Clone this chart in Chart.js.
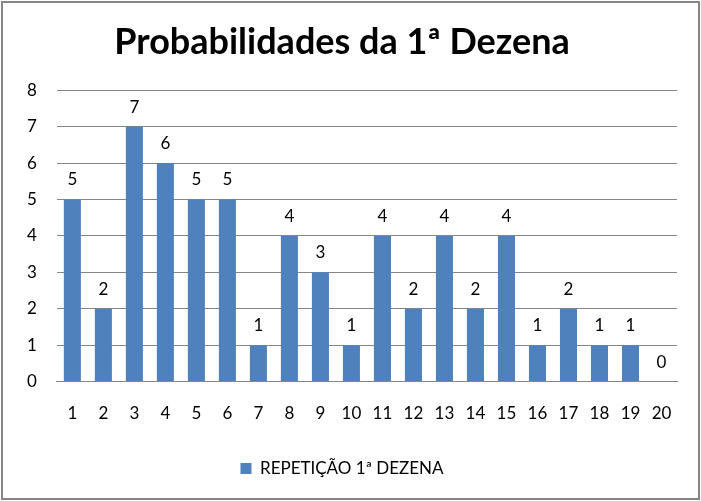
<!DOCTYPE html>
<html>
<head>
<meta charset="utf-8">
<script src="https://cdn.jsdelivr.net/npm/chart.js@4/dist/chart.umd.min.js"></script>
<style>
  body { margin: 0; background: #fff; }
  .chart-box {
    position: absolute; left: 1px; top: 1px;
    width: 695px; height: 495px;
    border: 2px solid #868686;
    background: #fff;
  }
</style>
</head>
<body>
<div class="chart-box"><canvas id="myChart"></canvas></div>
<script>
const categories = ["1","2","3","4","5","6","7","8","9","10","11","12","13","14","15","16","17","18","19","20"];
const repeticoes = [5, 2, 7, 6, 5, 5, 1, 4, 3, 1, 4, 2, 4, 2, 4, 1, 2, 1, 1, 0];
const yTicks = [0, 1, 2, 3, 4, 5, 6, 7, 8];

const fontName = "Lato, 'Open Sans', sans-serif";

// draws the value above every bar
const barLabels = {
  id: "barLabels",
  afterDatasetsDraw(chart) {
    const ctx = chart.ctx;
    const meta = chart.getDatasetMeta(0);
    ctx.save();
    ctx.fillStyle = "#000";
    ctx.font = "17px " + fontName;
    ctx.textAlign = "center";
    ctx.textBaseline = "bottom";
    meta.data.forEach((bar, i) => {
      ctx.fillText(String(repeticoes[i]), bar.x, bar.y - 11);
    });
    ctx.restore();
  }
};

new Chart(document.getElementById("myChart"), {
  type: "bar",
  data: {
    labels: categories,
    datasets: [{
      label: "REPETIÇÃO 1ª DEZENA",
      data: repeticoes,
      backgroundColor: "#4F81BD",
      categoryPercentage: 1,
      barPercentage: 0.55
    }]
  },
  options: {
    responsive: true,
    maintainAspectRatio: false,
    animation: false,
    layout: { padding: { left: 4, right: 21, top: 8, bottom: 11 } },
    plugins: {
      title: {
        display: true,
        text: "Probabilidades da 1ª Dezena",
        color: "#000",
        font: { family: fontName, size: 36, weight: "bold" },
        padding: { top: 10, bottom: 26 }
      },
      legend: {
        position: "bottom",
        labels: {
          color: "#000",
          font: { family: fontName, size: 17 },
          boxWidth: 11,
          boxHeight: 11,
          padding: 22
        }
      },
      tooltip: { enabled: false }
    },
    scales: {
      x: {
        grid: { display: false },
        border: { color: "#868686" },
        ticks: { color: "#000", font: { family: fontName, size: 17 }, padding: 14, maxRotation: 0 }
      },
      y: {
        min: 0,
        max: 8,
        afterBuildTicks: axis => { axis.ticks = yTicks.map(v => ({ value: v })); },
        grid: { color: "#868686", drawTicks: false },
        border: { display: false },
        ticks: { color: "#000", font: { family: fontName, size: 17 }, padding: 20 }
      }
    }
  },
  plugins: [barLabels]
});
</script>
</body>
</html>
